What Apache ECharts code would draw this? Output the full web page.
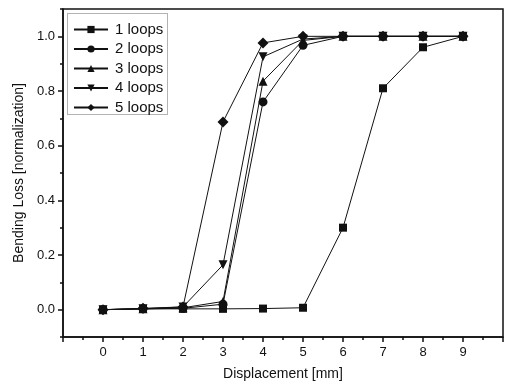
<!DOCTYPE html>
<html>
<head>
<meta charset="utf-8">
<script src="https://cdn.jsdelivr.net/npm/echarts@6/dist/echarts.min.js"></script>
<style>
  html, body {margin: 0; padding: 0; background: #fff;}
  #chart {width: 509px; height: 388px;}
</style>
</head>
<body>
<div id="chart"></div>
<script>
// displacement in mm
const displacement = [0, 1, 2, 3, 4, 5, 6, 7, 8, 9];
const loops1 = [0, 0.003, 0.003, 0.003, 0.004, 0.007, 0.30, 0.81, 0.96, 1.0];
const loops2 = [0, 0.003, 0.005, 0.02, 0.76, 0.967, 1.0, 1.0, 1.0, 1.0];
const loops3 = [0, 0.003, 0.007, 0.03, 0.836, 0.985, 1.0, 1.0, 1.0, 1.0];
const loops4 = [0, 0.003, 0.01, 0.164, 0.925, 0.99, 1.0, 1.0, 1.0, 1.0];
const loops5 = [0, 0.005, 0.01, 0.687, 0.976, 1.0, 1.0, 1.0, 1.0, 1.0];
const xTickLabels = [0, 1, 2, 3, 4, 5, 6, 7, 8, 9];
const yTickLabels = [0, 0.2, 0.4, 0.6, 0.8, 1.0];

const font = 'Liberation Sans';
const ink = '#111';

const chart = echarts.init(document.getElementById('chart'));

const mk = (name, vals, symbol, size, rotate) => ({
    name: name,
    type: 'line',
    xAxisIndex: 0,
    yAxisIndex: 0,
    data: displacement.map((d, i) => [d, vals[i]]),
    symbol: symbol,
    symbolSize: size,
    symbolRotate: rotate || 0,
    showAllSymbol: true,
    itemStyle: {color: ink},
    lineStyle: {color: ink, width: 1},
    animation: false
});

chart.setOption({
    animation: false,
    grid: {
        left: 63, right: 6, top: 9, bottom: 51,
        show: true, borderColor: ink, borderWidth: 1.5
    },
    legend: {
        orient: 'vertical',
        left: 68, top: 17,
        itemWidth: 34, itemHeight: 9, itemGap: 4.5,
        textStyle: {fontFamily: font, fontSize: 15, color: ink, padding: [0, 0, 0, 2]},
        data: ['1 loops', '2 loops', '3 loops', '4 loops', '5 loops']
    },
    graphic: [{
        type: 'rect',
        left: 65, top: 11,
        shape: {width: 100, height: 101},
        style: {fill: 'none', stroke: '#666', lineWidth: 1, lineDash: [1, 1]},
        z: 1
    }],
    xAxis: [{
        type: 'value', min: -1, max: 10, interval: 0.5,
        position: 'bottom',
        name: 'Displacement [mm]', nameLocation: 'middle', nameGap: 30,
        nameTextStyle: {fontFamily: font, fontSize: 14, color: ink},
        axisLine: {onZero: false, lineStyle: {color: ink, width: 1.5}},
        axisTick: {show: true, length: 3, lineStyle: {color: ink, width: 1.5}},
        axisLabel: {
            customValues: xTickLabels,
            fontFamily: font, fontSize: 13, color: ink, margin: 9
        },
        splitLine: {show: false}
    }, {
        type: 'value', min: -1, max: 10, interval: 1,
        position: 'bottom',
        axisLine: {show: false, onZero: false},
        axisTick: {show: true, length: 5, lineStyle: {color: ink, width: 1.5}},
        axisLabel: {show: false},
        splitLine: {show: false}
    }],
    yAxis: [{
        type: 'value', min: -0.1, max: 1.1, interval: 0.1,
        position: 'left',
        name: 'Bending Loss [normalization]', nameLocation: 'middle', nameGap: 37,
        nameTextStyle: {fontFamily: font, fontSize: 14, color: ink},
        axisLine: {onZero: false, lineStyle: {color: ink, width: 1.5}},
        axisTick: {show: true, length: 3, lineStyle: {color: ink, width: 1.5}},
        axisLabel: {
            customValues: yTickLabels,
            formatter: v => v.toFixed(1),
            fontFamily: font, fontSize: 13, color: ink, margin: 8
        },
        splitLine: {show: false}
    }, {
        type: 'value', min: -0.1, max: 1.1,
        position: 'left',
        axisLine: {show: false, onZero: false},
        axisTick: {show: true, customValues: yTickLabels, length: 5, lineStyle: {color: ink, width: 1.5}},
        axisLabel: {show: false},
        splitLine: {show: false}
    }],
    series: [
        mk('1 loops', loops1, 'rect', 8),
        mk('2 loops', loops2, 'circle', 9),
        mk('3 loops', loops3, 'triangle', 9),
        mk('4 loops', loops4, 'triangle', 9, 180),
        mk('5 loops', loops5, 'diamond', 11)
    ]
});
</script>
</body>
</html>
